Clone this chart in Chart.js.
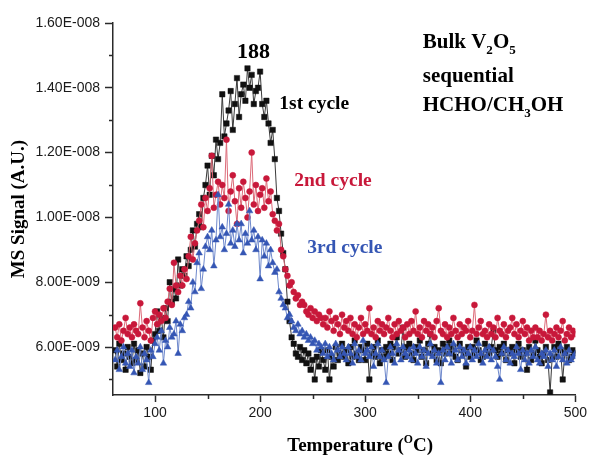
<!DOCTYPE html>
<html>
<head>
<meta charset="utf-8">
<title>MS signal vs temperature</title>
<script src="https://cdn.jsdelivr.net/npm/chart.js@4.4.1/dist/chart.umd.min.js"></script>
<style>
  html, body { margin: 0; padding: 0; background: #fff; }
</style>
</head>
<body>
<canvas id="ms-chart" width="590" height="455"></canvas>
<script>
'use strict';

// ******* DATA (signal in units of 1E-9, temperature grid 62..500 every 2 C) *******
// each row below = 10 readings = 20 C
const tempStart = 62;
const tempStep = 2;

const cycle1 = [
  5.9, 5.4, 6.1, 5.6, 5.8, 5.3, 6.0, 5.7, 5.5, 6.1,
  5.6, 5.9, 5.2, 5.8, 5.4, 6.0, 5.7, 5.3, 6.2, 6.4,
  7.1, 6.5, 6.9, 6.3, 7.2, 6.8, 8.0, 7.4, 7.8, 7.5,
  8.7, 7.9, 8.4, 8.2, 8.8, 8.5, 9.0, 9.6, 9.1, 9.8,
  10.1, 9.7, 10.6, 11.0, 11.6, 10.7, 11.9, 11.3, 12.4, 11.8,
  12.3, 13.8, 12.5, 12.9, 13.3, 13.9, 12.7, 13.5, 14.3, 13.1,
  13.8, 14.1, 13.6, 14.6, 14.0, 14.4, 13.5, 13.9, 14.0, 14.5,
  13.5, 13.1, 13.6, 12.9, 12.3, 12.7, 11.8, 10.6, 10.2, 9.5,
  8.9, 8.4, 7.4, 6.8, 6.3, 6.1, 5.8, 5.7, 6.0, 5.6,
  5.9, 5.5, 5.8, 5.3, 5.6, 5.0, 5.7, 5.4, 5.9, 5.6,
  5.3, 5.9, 5.0, 5.7, 5.4, 6.0, 5.6, 5.8, 6.1, 5.7,
  5.9, 5.5, 6.0, 5.7, 6.2, 5.8, 5.6, 6.0, 5.9, 5.6,
  6.1, 5.0, 5.8, 6.0, 5.7, 6.2, 5.5, 5.9, 5.7, 6.0,
  5.8, 6.1, 5.6, 6.0, 6.3, 5.8, 5.9, 6.6, 5.7, 6.0,
  6.1, 5.8, 5.6, 6.0, 5.9, 6.2, 5.7, 5.9, 5.5, 6.1,
  6.4, 5.8, 6.0, 5.6, 5.9, 5.5, 6.1, 5.8, 6.0, 6.2,
  5.8, 6.0, 5.7, 5.6, 6.1, 5.9, 5.8, 5.4, 6.0, 5.7,
  6.0, 5.8, 6.2, 5.9, 5.6, 5.7, 6.1, 5.9, 5.8, 6.0,
  6.5, 5.9, 5.7, 6.0, 5.8, 6.1, 5.6, 5.9, 5.8, 6.0,
  5.5, 5.9, 6.1, 5.7, 5.9, 5.8, 5.3, 6.0, 5.6, 5.8,
  6.2, 5.9, 5.7, 5.5, 5.8, 6.0, 5.6, 4.6, 5.7, 6.0,
  5.7, 6.1, 5.9, 5.0, 5.8, 6.0, 5.6, 5.7, 5.9, 5.8
];

const cycle2 = [
  6.6, 6.3, 6.7, 6.2, 6.5, 6.9, 6.4, 6.6, 6.3, 6.7,
  6.5, 6.4, 7.35, 6.6, 6.3, 6.8, 6.5, 6.2, 6.9, 7.1,
  6.7, 7.0, 6.8, 7.2, 6.9, 7.4, 7.8, 7.3, 8.6, 7.9,
  7.7, 8.2, 7.9, 8.4, 8.1, 8.8, 9.4, 8.7, 9.2, 9.6,
  9.9, 10.4, 9.7, 10.6, 10.2, 10.9, 11.9, 10.3, 10.7, 11.1,
  10.4, 11.0, 10.6, 12.4, 10.2, 10.8, 11.3, 10.5, 9.8, 10.9,
  10.3, 11.1, 10.6, 10.0, 10.8, 12.0, 10.4, 11.0, 10.2, 10.7,
  10.9, 10.3, 11.2, 10.5, 10.8, 10.1, 9.9, 9.6, 9.8, 9.0,
  8.8, 8.4, 8.2, 7.9, 8.0, 7.7, 7.5, 7.6, 7.3, 7.4,
  7.3, 7.1, 7.0, 7.2, 6.9, 7.1, 6.8, 7.0, 6.9, 6.7,
  6.9, 6.6, 7.1, 6.8, 6.5, 6.9, 6.7, 6.4, 7.0, 6.6,
  6.8, 6.5, 6.9, 6.4, 6.7, 6.3, 6.6, 6.9, 6.4, 6.7,
  6.5, 7.2, 6.4, 6.6, 6.3, 6.8, 6.5, 6.7, 6.4, 6.6,
  6.9, 6.5, 6.3, 6.7, 6.4, 6.8, 6.5, 6.6, 6.3, 6.7,
  6.4, 6.8, 6.5, 7.1, 6.4, 6.6, 6.3, 6.8, 6.5, 6.7,
  6.4, 6.6, 6.3, 6.8, 7.2, 6.5, 6.4, 6.7, 6.3, 6.6,
  6.4, 6.9, 6.5, 6.3, 6.7, 6.4, 6.6, 6.5, 6.8, 6.3,
  6.5, 7.3, 6.4, 6.6, 6.8, 6.4, 6.5, 6.3, 6.7, 6.4,
  6.6, 6.3, 6.9, 6.5, 6.4, 6.7, 6.3, 6.5, 6.6, 6.9,
  6.4, 6.7, 6.3, 6.5, 6.8, 6.4, 6.6, 6.2, 6.5, 6.3,
  6.6, 6.3, 6.5, 6.2, 6.4, 7.0, 6.3, 6.5, 6.2, 6.4,
  6.6, 6.3, 6.5, 6.8, 6.2, 6.4, 6.6, 6.3, 6.5, 6.4
];

const cycle3 = [
  5.6, 5.9, 5.3, 5.7, 6.0, 5.5, 5.8, 5.4, 5.9, 5.2,
  5.7, 5.5, 6.0, 5.3, 5.8, 5.6, 4.9, 5.9, 5.7, 6.1,
  6.3, 5.9, 6.5, 5.5, 6.2, 6.0, 6.6, 6.3, 6.4, 6.8,
  5.8, 6.7, 6.5, 6.9, 7.0, 7.4, 7.2, 8.0, 7.7, 8.6,
  8.9, 7.8, 8.4, 9.1, 9.4, 9.0, 9.6, 8.5, 9.3, 10.7,
  9.4, 9.7, 9.0, 9.5, 10.4, 9.2, 9.6, 9.1, 9.8, 9.3,
  9.8, 8.9, 9.5, 9.2, 10.2, 9.3, 9.6, 9.0, 9.4, 8.1,
  9.3, 8.8, 9.2, 8.5, 9.0, 8.6, 8.3, 8.4, 7.7, 7.5,
  7.3, 7.2, 6.9, 7.0, 6.8, 6.6, 6.5, 6.7, 6.4, 6.5,
  6.3, 6.4, 6.2, 6.3, 6.1, 6.2, 5.9, 6.1, 6.0, 5.8,
  6.1, 5.7, 6.0, 5.8, 5.6, 6.1, 5.9, 5.7, 6.0, 5.8,
  5.6, 6.0, 5.8, 5.5, 6.1, 5.7, 5.9, 5.6, 6.2, 5.8,
  5.9, 5.7, 6.0, 5.4, 5.8, 6.1, 5.7, 5.9, 5.6, 4.9,
  5.7, 6.0, 5.8, 5.5, 6.1, 5.9, 5.6, 6.0, 5.8, 5.7,
  5.9, 5.6, 6.0, 5.8, 5.5, 6.0, 5.7, 5.9, 5.4, 5.8,
  6.1, 5.7, 5.9, 5.5, 5.8, 4.9, 5.9, 5.6, 6.0, 5.8,
  5.5, 6.1, 5.9, 5.6, 6.0, 5.7, 5.9, 5.5, 5.8, 6.0,
  5.6, 5.9, 5.7, 6.1, 5.8, 5.5, 5.9, 5.7, 6.0, 5.6,
  5.9, 5.7, 5.4, 5.0, 5.8, 6.0, 5.6, 5.9, 5.5, 5.8,
  5.7, 6.0, 5.8, 5.3, 5.9, 5.6, 5.8, 5.5, 5.9, 5.7,
  6.0, 5.6, 5.5, 5.8, 5.7, 5.9, 5.4, 5.8, 5.6, 5.9,
  5.4, 5.7, 6.0, 5.6, 5.8, 5.5, 5.9, 5.6, 5.7, 5.8
];

const seriesNames = ['1st cycle', '2nd cycle', '3rd cycle'];

// ******* AXIS TICKS *******
const xTickValues = [100, 200, 300, 400, 500];
const xMinorTicks = [150, 250, 350, 450];
const yTickValues = [6, 8, 10, 12, 14, 16];
const yTickLabels = ['6.00E-009', '8.00E-009', '1.00E-008', '1.20E-008', '1.40E-008', '1.60E-008'];
const yMinorTicks = [5, 7, 9, 11, 13, 15];

// ******* STYLE *******
const axisColor = '#2a2a2a';
const markColors = ['#111111', '#c8183a', '#3556b4'];
const lineColors = ['#3a3a3a', '#dc6a78', '#6f89cc'];
const serif = '"Liberation Serif", "Times New Roman", serif';

// ******* HELPERS *******
function toPoints(values) {
  return values.map((v, i) => ({ x: tempStart + i * tempStep, y: v }));
}

// width of a bold serif text line made of normal / sub / superscript parts
function richWidth(ctx, parts, size) {
  let w = 0;
  parts.forEach(p => {
    let fs = (p.sub || p.sup) ? size * 0.62 : size;
    ctx.font = `bold ${fs}px ${serif}`;
    w += ctx.measureText(p.t).width;
  });
  return w;
}

function drawRich(ctx, parts, x, y, size, color, align) {
  let cx = align === 'center' ? x - richWidth(ctx, parts, size) / 2 : x;
  ctx.fillStyle = color;
  ctx.textAlign = 'left';
  ctx.textBaseline = 'alphabetic';
  parts.forEach(p => {
    let fs = (p.sub || p.sup) ? size * 0.62 : size;
    let dy = p.sub ? size * 0.3 : (p.sup ? -size * 0.42 : 0);
    ctx.font = `bold ${fs}px ${serif}`;
    ctx.fillText(p.t, cx, y + dy);
    cx += ctx.measureText(p.t).width;
  });
}

// annotation texts, anchored at data coordinates (temperature, signal)
const notes = [
  { parts: [{ t: '188' }], x: 193.6, y: 14.93, size: 22, color: '#000', align: 'center' },
  { parts: [{ t: '1st cycle' }], x: 218.3, y: 13.36, size: 19.5, color: '#000' },
  { parts: [{ t: '2nd cycle' }], x: 232.5, y: 10.98, size: 19.5, color: markColors[1] },
  { parts: [{ t: '3rd cycle' }], x: 244.8, y: 8.89, size: 19.5, color: markColors[2] },
  { parts: [{ t: 'Bulk V' }, { t: '2', sub: true }, { t: 'O' }, { t: '5', sub: true }], x: 354.8, y: 15.24, size: 21, color: '#000' },
  { parts: [{ t: 'sequential' }], x: 354.8, y: 14.18, size: 21, color: '#000' },
  { parts: [{ t: 'HCHO/CH' }, { t: '3', sub: true }, { t: 'OH' }], x: 354.8, y: 13.29, size: 21, color: '#000' }
];

const xTitleParts = [{ t: 'Temperature (' }, { t: 'O', sup: true }, { t: 'C)' }];

const extrasPlugin = {
  id: 'extras',
  afterDraw(chart) {
    const ctx = chart.ctx;
    const xs = chart.scales.x;
    const ys = chart.scales.y;
    const area = chart.chartArea;
    ctx.save();

    // minor ticks
    ctx.strokeStyle = axisColor;
    ctx.lineWidth = 1.5;
    ctx.beginPath();
    xMinorTicks.forEach(v => {
      let px = Math.round(xs.getPixelForValue(v)) + 0.5;
      ctx.moveTo(px, area.bottom);
      ctx.lineTo(px, area.bottom + 4);
    });
    yMinorTicks.forEach(v => {
      let py = Math.round(ys.getPixelForValue(v)) + 0.5;
      ctx.moveTo(area.left, py);
      ctx.lineTo(area.left - 4, py);
    });
    ctx.stroke();

    // annotations
    notes.forEach(n => {
      drawRich(ctx, n.parts, xs.getPixelForValue(n.x), ys.getPixelForValue(n.y), n.size, n.color, n.align);
    });

    // x axis title with superscript
    drawRich(ctx, xTitleParts, (area.left + area.right) / 2 + 16, chart.height - 4, 19, '#000', 'center');

    ctx.restore();
  }
};

// ******* CHART *******
const ctx = document.getElementById('ms-chart');
const pointShapes = ['rect', 'circle', 'triangle'];
const pointSizes = [3.8, 3.0, 3.8];
const drawOrder = [3, 2, 1];

const datasets = [cycle1, cycle2, cycle3].map((values, i) => ({
  label: seriesNames[i],
  data: toPoints(values),
  borderColor: lineColors[i],
  borderWidth: 1,
  pointStyle: pointShapes[i],
  pointRadius: pointSizes[i],
  pointBackgroundColor: markColors[i],
  pointBorderColor: markColors[i],
  pointBorderWidth: 0.5,
  tension: 0,
  order: drawOrder[i]
}));

new Chart(ctx, { //eslint-disable-line
  type: 'line',
  data: { datasets: datasets },
  options: {
    responsive: false,
    animation: false,
    events: [],
    layout: { padding: { top: 23, right: 13, bottom: 0, left: 0 } },
    plugins: {
      legend: { display: false },
      tooltip: { enabled: false }
    },
    scales: {
      x: {
        type: 'linear',
        min: 60,
        max: 500,
        afterBuildTicks: axis => { axis.ticks = xTickValues.map(v => ({ value: v })); },
        afterFit: scale => { scale.height = 60; },
        ticks: {
          autoSkip: false,
          maxRotation: 0,
          padding: 3,
          color: '#1a1a1a',
          font: { family: '"Liberation Sans", Arial, sans-serif', size: 14 },
          callback: v => String(v)
        },
        grid: { drawOnChartArea: false, tickLength: 7, tickWidth: 1.5, tickColor: axisColor },
        border: { color: axisColor, width: 1.5 }
      },
      y: {
        type: 'linear',
        min: 4.52,
        max: 16,
        afterBuildTicks: axis => { axis.ticks = yTickValues.map(v => ({ value: v })); },
        afterFit: scale => { scale.width = 113; },
        ticks: {
          autoSkip: false,
          padding: 5,
          color: '#1a1a1a',
          font: { family: '"Liberation Sans", Arial, sans-serif', size: 14 },
          callback: v => yTickLabels[yTickValues.indexOf(v)]
        },
        grid: { drawOnChartArea: false, tickLength: 8, tickWidth: 1.5, tickColor: axisColor },
        border: { color: axisColor, width: 1.5 },
        title: {
          display: true,
          text: 'MS Signal (A.U.)',
          color: '#000',
          padding: { top: 8, bottom: 0 },
          font: { family: serif, size: 19, weight: 'bold' }
        }
      }
    }
  },
  plugins: [extrasPlugin]
});
</script>
</body>
</html>
